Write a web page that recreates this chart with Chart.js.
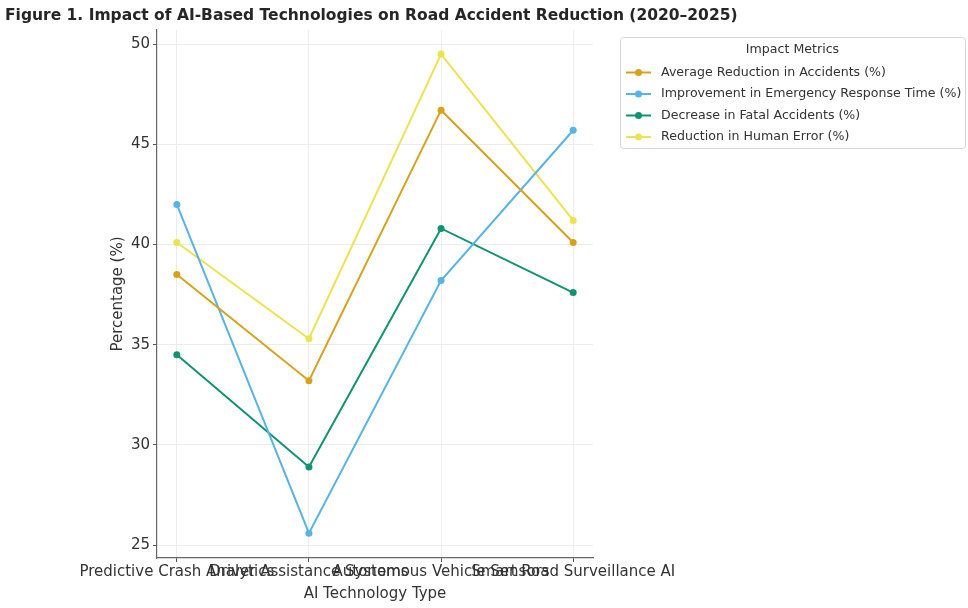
<!DOCTYPE html>
<html>
<head>
<meta charset="utf-8">
<title>AI road safety chart</title>
<script src="https://cdn.jsdelivr.net/npm/chart.js@4.4.1/dist/chart.umd.min.js"></script>
<style>
  html, body { margin: 0; padding: 0; background: #ffffff; }
  #wrap { width: 968px; height: 608px; position: relative; }
</style>
</head>
<body>
<div id="wrap"><canvas id="chart"></canvas></div>
<script>
// Technology categories (x axis)
const categories = [
  'Predictive Crash Analytics',
  'Driver Assistance Systems',
  'Autonomous Vehicle Sensors',
  'Smart Road Surveillance AI'
];

// Series values (%)
const avgReduction      = [38.5, 33.2, 46.7, 40.1];
const responseTimeGain  = [42.0, 25.6, 38.2, 45.7];
const fatalDecrease     = [34.5, 28.9, 40.8, 37.6];
const humanErrorDrop    = [40.1, 35.3, 49.5, 41.2];

const seriesLabels = [
  'Average Reduction in Accidents (%)',
  'Improvement in Emergency Response Time (%)',
  'Decrease in Fatal Accidents (%)',
  'Reduction in Human Error (%)'
];

const yTickValues = [25, 30, 35, 40, 45, 50];

const titleText = 'Figure 1. Impact of AI-Based Technologies on Road Accident Reduction (2020\u20132025)';
const legendTitle = 'Impact Metrics';

const palette = ['#D9A21A', '#56B4E9', '#0E9472', '#EDE34E'];

const FONT = "'DejaVu Sans', sans-serif";

const seriesValues = [avgReduction, responseTimeGain, fatalDecrease, humanErrorDrop];

const datasets = seriesValues.map((vals, s) => ({
  label: seriesLabels[s],
  data: vals.map((v, i) => ({ x: i, y: v })),
  borderColor: palette[s],
  backgroundColor: palette[s],
  borderWidth: 2,
  pointRadius: 3.5,
  pointHoverRadius: 3.5,
  pointBorderWidth: 0,
  tension: 0
}));

// Figure title drawn at the top-left corner
const titlePlugin = {
  id: 'figureTitle',
  afterDraw(chart) {
    const ctx = chart.ctx;
    ctx.save();
    ctx.font = 'bold 15.5px ' + FONT;
    ctx.fillStyle = '#262626';
    ctx.textAlign = 'left';
    ctx.textBaseline = 'middle';
    ctx.fillText(titleText, 5, 16);
    ctx.restore();
  }
};

// Boxed legend placed to the right of the plot
const boxLegendPlugin = {
  id: 'boxLegend',
  afterDraw(chart) {
    const ctx = chart.ctx;
    const x0 = 620, y0 = 37, w = 345, h = 111;
    ctx.save();
    ctx.fillStyle = 'rgba(255,255,255,0.9)';
    ctx.strokeStyle = '#d6d6d6';
    ctx.lineWidth = 1;
    ctx.beginPath();
    if (ctx.roundRect) ctx.roundRect(x0 + 0.5, y0 + 0.5, w, h, 3); else ctx.rect(x0 + 0.5, y0 + 0.5, w, h);
    ctx.fill();
    ctx.stroke();

    ctx.fillStyle = '#333333';
    ctx.font = '12.6px ' + FONT;
    ctx.textAlign = 'center';
    ctx.textBaseline = 'middle';
    ctx.fillText(legendTitle, x0 + w / 2, 50);

    ctx.textAlign = 'left';
    chart.data.datasets.forEach((ds, i) => {
      const yy = 72.5 + i * 21.5;
      ctx.strokeStyle = ds.borderColor;
      ctx.lineWidth = 2;
      ctx.beginPath();
      ctx.moveTo(626, yy);
      ctx.lineTo(651, yy);
      ctx.stroke();
      ctx.fillStyle = ds.borderColor;
      ctx.beginPath();
      ctx.arc(638.5, yy, 3.5, 0, Math.PI * 2);
      ctx.fill();
      ctx.fillStyle = '#333333';
      ctx.fillText(ds.label, 661, yy);
    });
    ctx.restore();
  }
};

new Chart(document.getElementById('chart'), {
  type: 'line',
  data: { datasets },
  plugins: [titlePlugin, boxLegendPlugin],
  options: {
    responsive: true,
    maintainAspectRatio: false,
    animation: false,
    events: [],
    layout: { padding: { top: 30, right: 375, bottom: 0, left: 0 } },
    plugins: {
      legend: { display: false },
      title: { display: false },
      tooltip: { enabled: false }
    },
    scales: {
      x: {
        type: 'linear',
        min: -0.15,
        max: 3.15,
        afterBuildTicks(axis) {
          axis.ticks = categories.map((c, i) => ({ value: i }));
        },
        afterFit(axis) { axis.height = 50; },
        ticks: {
          autoSkip: false,
          maxRotation: 0,
          minRotation: 0,
          padding: 1,
          color: '#333333',
          font: { family: FONT, size: 15 },
          callback: (v) => categories[v]
        },
        grid: {
          color: '#ececec',
          lineWidth: 1,
          tickLength: 4,
          tickColor: '#555555',
          drawTicks: true
        },
        border: { display: true, color: '#666666', width: 1.2 },
        title: {
          display: true,
          text: 'AI Technology Type',
          color: '#333333',
          font: { family: FONT, size: 15 },
          padding: { top: 0, bottom: 5 }
        }
      },
      y: {
        type: 'linear',
        min: 24.36,
        max: 50.7,
        afterBuildTicks(axis) {
          axis.ticks = yTickValues.map(v => ({ value: v }));
        },
        afterFit(axis) { axis.width = 157; },
        ticks: {
          padding: 3,
          color: '#333333',
          font: { family: FONT, size: 15 }
        },
        grid: {
          color: '#ececec',
          lineWidth: 1,
          tickLength: 4,
          tickColor: '#555555',
          drawTicks: true
        },
        border: { display: true, color: '#666666', width: 1.2 },
        title: {
          display: true,
          text: 'Percentage (%)',
          color: '#333333',
          font: { family: FONT, size: 15 },
          padding: { top: 109, bottom: 0 }
        }
      }
    }
  }
});
</script>
</body>
</html>
